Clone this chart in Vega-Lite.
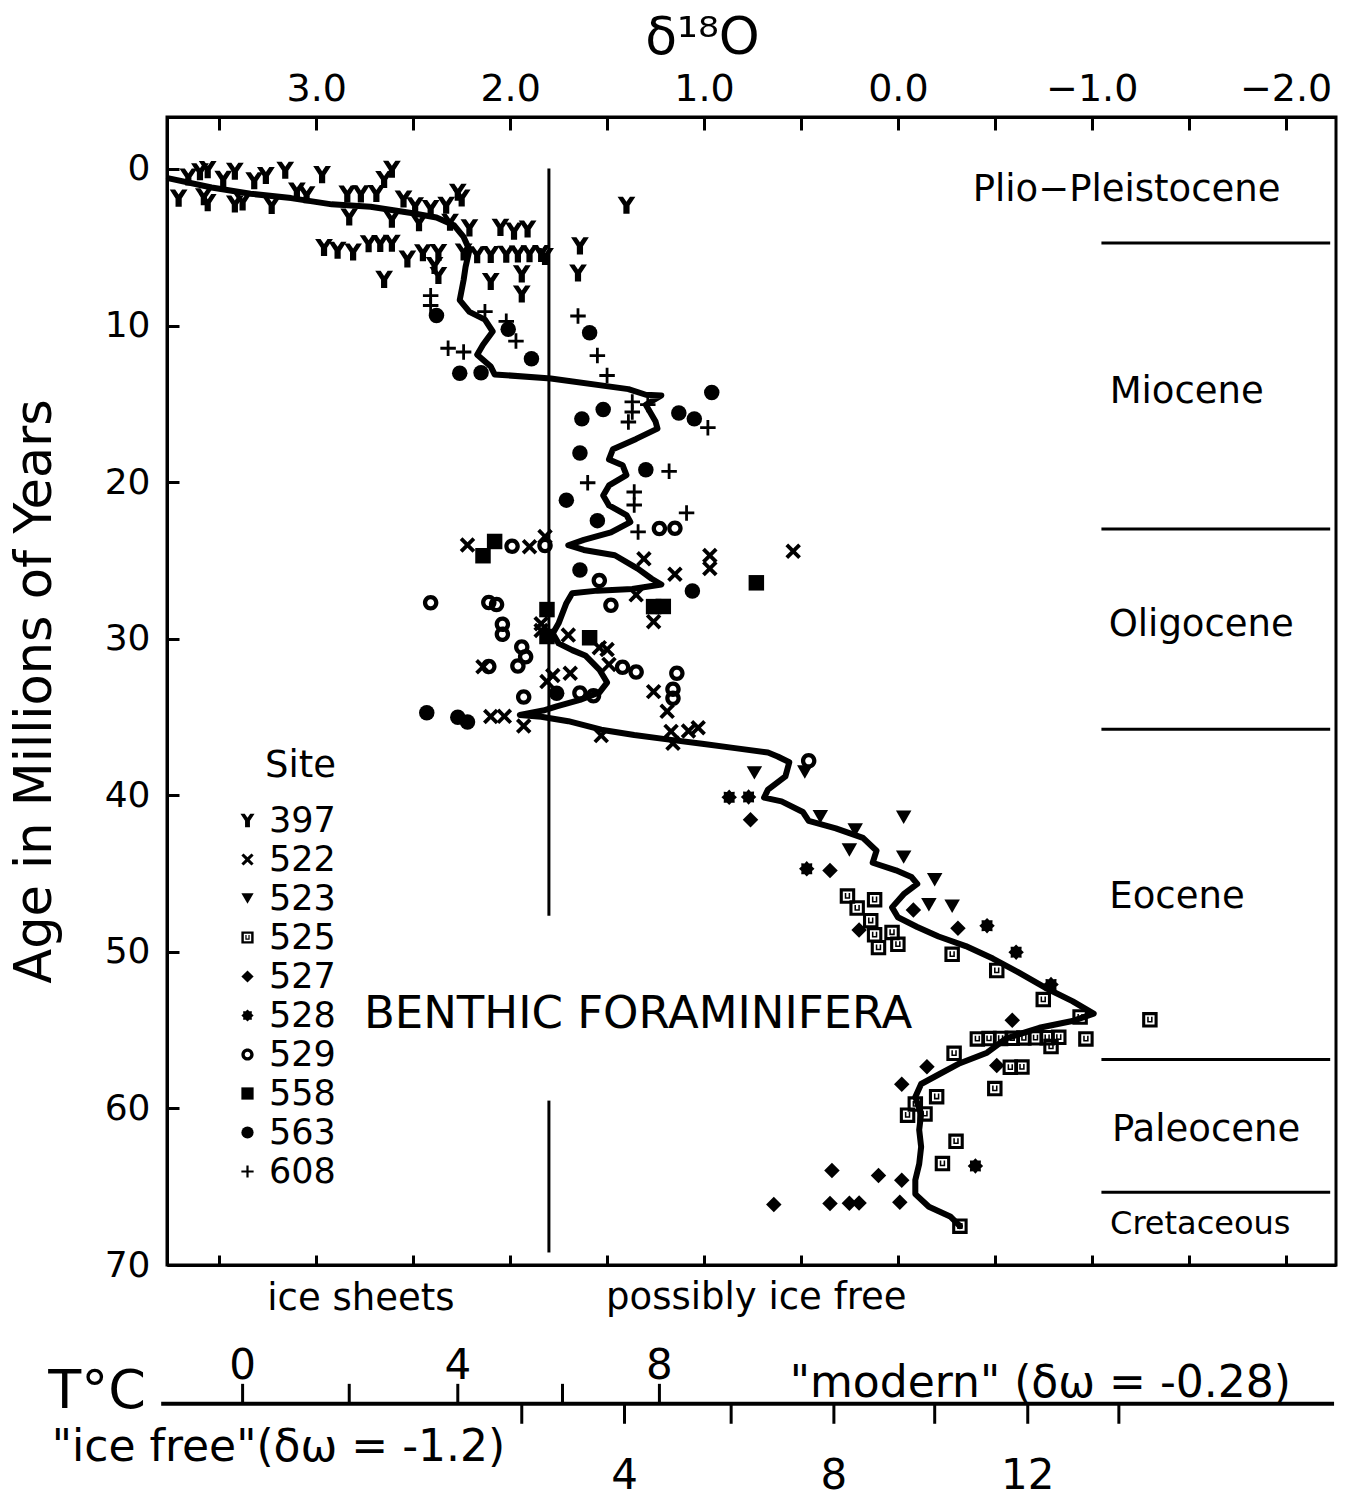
{
  "$schema": "https://vega.github.io/schema/vega-lite/v6.json",
  "width": 1169,
  "height": 1148,
  "autosize": {"type": "none"},
  "padding": {"left": 167, "top": 117, "right": 23, "bottom": 237},
  "background": "white",
  "config": {
    "font": "DejaVu Sans",
    "view": {"stroke": "black", "strokeWidth": 3},
    "axis": {"labelFont": "DejaVu Sans", "titleFont": "DejaVu Sans", "labelColor": "black", "titleColor": "black", "domainColor": "black", "domainWidth": 3, "tickColor": "black", "tickWidth": 3, "titleFontWeight": "normal", "grid": false, "labelFontSize": 36},
    "text": {"font": "DejaVu Sans", "color": "black"},
    "legend": {"labelFont": "DejaVu Sans", "titleFont": "DejaVu Sans", "labelColor": "black", "titleColor": "black"}
  },
  "datasets": {
    "curve": [
      {"d18O":3.76,"age":0.6},{"d18O":3.54,"age":1.18},{"d18O":3.34,"age":1.58},{"d18O":3.13,"age":1.86},{"d18O":2.92,"age":2.26},{"d18O":2.72,"age":2.41},{"d18O":2.51,"age":2.81},{"d18O":2.38,"age":3.10},{"d18O":2.29,"age":3.59},{"d18O":2.24,"age":4.34},{"d18O":2.21,"age":5.17},{"d18O":2.23,"age":6.26},{"d18O":2.24,"age":7.09},{"d18O":2.26,"age":8.37},{"d18O":2.21,"age":9.13},{"d18O":2.13,"age":9.62},{"d18O":2.09,"age":10.38},{"d18O":2.14,"age":11.22},{"d18O":2.17,"age":11.86},{"d18O":2.10,"age":12.62},{"d18O":2.08,"age":13.12},{"d18O":1.79,"age":13.38},{"d18O":1.39,"age":14.06},{"d18O":1.30,"age":14.42},{"d18O":1.22,"age":14.46},{"d18O":1.30,"age":15.06},{"d18O":1.25,"age":16.13},{"d18O":1.24,"age":16.58},{"d18O":1.35,"age":17.24},{"d18O":1.47,"age":17.90},{"d18O":1.49,"age":18.55},{"d18O":1.42,"age":18.92},{"d18O":1.40,"age":19.55},{"d18O":1.49,"age":20.21},{"d18O":1.52,"age":20.86},{"d18O":1.49,"age":21.49},{"d18O":1.40,"age":22.10},{"d18O":1.38,"age":22.55},{"d18O":1.48,"age":23.21},{"d18O":1.62,"age":23.69},{"d18O":1.70,"age":24.03},{"d18O":1.62,"age":24.33},{"d18O":1.46,"age":24.67},{"d18O":1.34,"age":25.54},{"d18O":1.27,"age":26.17},{"d18O":1.22,"age":26.54},{"d18O":1.37,"age":26.83},{"d18O":1.55,"age":26.93},{"d18O":1.68,"age":27.09},{"d18O":1.71,"age":27.73},{"d18O":1.75,"age":29.02},{"d18O":1.78,"age":29.66},{"d18O":1.75,"age":30.30},{"d18O":1.68,"age":30.73},{"d18O":1.61,"age":31.09},{"d18O":1.54,"age":31.97},{"d18O":1.50,"age":32.80},{"d18O":1.54,"age":33.44},{"d18O":1.64,"age":33.91},{"d18O":1.76,"age":34.32},{"d18O":1.83,"age":34.59},{"d18O":1.95,"age":34.87},{"d18O":1.84,"age":34.98},{"d18O":1.70,"age":35.27},{"d18O":1.53,"age":35.81},{"d18O":1.36,"age":36.15},{"d18O":1.19,"age":36.43},{"d18O":1.01,"age":36.71},{"d18O":0.84,"age":36.99},{"d18O":0.67,"age":37.27},{"d18O":0.62,"age":37.52},{"d18O":0.56,"age":37.89},{"d18O":0.58,"age":38.79},{"d18O":0.67,"age":39.64},{"d18O":0.69,"age":40.15},{"d18O":0.60,"age":40.39},{"d18O":0.49,"age":41.07},{"d18O":0.46,"age":41.63},{"d18O":0.32,"age":42.11},{"d18O":0.18,"age":42.72},{"d18O":0.11,"age":43.54},{"d18O":0.13,"age":44.31},{"d18O":0.01,"age":44.79},{"d18O":-0.07,"age":45.22},{"d18O":-0.10,"age":45.66},{"d18O":-0.03,"age":46.32},{"d18O":0.03,"age":47.16},{"d18O":0.00,"age":47.79},{"d18O":-0.10,"age":48.41},{"d18O":-0.21,"age":49.02},{"d18O":-0.35,"age":49.63},{"d18O":-0.49,"age":50.43},{"d18O":-0.62,"age":51.30},{"d18O":-0.76,"age":52.29},{"d18O":-0.90,"age":53.15},{"d18O":-1.01,"age":53.95},{"d18O":-0.90,"age":54.42},{"d18O":-0.73,"age":54.85},{"d18O":-0.56,"age":55.52},{"d18O":-0.46,"age":56.44},{"d18O":-0.32,"age":57.11},{"d18O":-0.22,"age":57.77},{"d18O":-0.12,"age":58.44},{"d18O":-0.09,"age":59.27},{"d18O":-0.12,"age":60.35},{"d18O":-0.11,"age":61.37},{"d18O":-0.12,"age":62.46},{"d18O":-0.11,"age":63.55},{"d18O":-0.09,"age":64.57},{"d18O":-0.09,"age":65.47},{"d18O":-0.16,"age":66.28},{"d18O":-0.27,"age":66.90},{"d18O":-0.32,"age":67.52}
    ],
    "points": [
      {"site":"397","d18O":3.60,"age":0.18},{"site":"397","d18O":3.42,"age":0.14},{"site":"397","d18O":3.16,"age":0.08},{"site":"397","d18O":2.61,"age":0.02},{"site":"397","d18O":2.97,"age":0.36},{"site":"397","d18O":3.26,"age":0.42},{"site":"397","d18O":3.32,"age":0.75},{"site":"397","d18O":3.48,"age":0.66},{"site":"397","d18O":3.66,"age":0.51},{"site":"397","d18O":3.56,"age":0.04},{"site":"397","d18O":3.71,"age":1.86},{"site":"397","d18O":3.58,"age":1.77},{"site":"397","d18O":3.56,"age":2.15},{"site":"397","d18O":3.42,"age":2.24},{"site":"397","d18O":3.38,"age":2.11},{"site":"397","d18O":3.23,"age":2.33},{"site":"397","d18O":3.10,"age":1.41},{"site":"397","d18O":3.05,"age":1.65},{"site":"397","d18O":2.84,"age":1.60},{"site":"397","d18O":2.77,"age":1.59},{"site":"397","d18O":2.69,"age":1.57},{"site":"397","d18O":2.65,"age":0.67},{"site":"397","d18O":2.27,"age":1.48},{"site":"397","d18O":2.25,"age":1.85},{"site":"397","d18O":2.33,"age":2.32},{"site":"397","d18O":2.41,"age":2.53},{"site":"397","d18O":2.49,"age":2.35},{"site":"397","d18O":2.55,"age":1.92},{"site":"397","d18O":2.83,"age":3.07},{"site":"397","d18O":2.61,"age":3.21},{"site":"397","d18O":2.47,"age":3.44},{"site":"397","d18O":2.31,"age":3.40},{"site":"397","d18O":2.21,"age":3.76},{"site":"397","d18O":2.05,"age":3.73},{"site":"397","d18O":1.98,"age":3.97},{"site":"397","d18O":1.91,"age":3.83},{"site":"397","d18O":1.40,"age":2.31},{"site":"397","d18O":1.64,"age":4.91},{"site":"397","d18O":1.65,"age":6.64},{"site":"397","d18O":1.94,"age":6.70},{"site":"397","d18O":1.94,"age":7.98},{"site":"397","d18O":2.10,"age":7.18},{"site":"397","d18O":2.37,"age":6.80},{"site":"397","d18O":2.65,"age":7.05},{"site":"397","d18O":2.96,"age":5.01},{"site":"397","d18O":2.89,"age":5.19},{"site":"397","d18O":2.81,"age":5.30},{"site":"397","d18O":2.73,"age":4.77},{"site":"397","d18O":2.67,"age":4.76},{"site":"397","d18O":2.61,"age":4.74},{"site":"397","d18O":2.53,"age":5.75},{"site":"397","d18O":2.45,"age":5.35},{"site":"397","d18O":2.37,"age":5.33},{"site":"397","d18O":2.39,"age":6.16},{"site":"397","d18O":2.24,"age":5.30},{"site":"397","d18O":2.17,"age":5.48},{"site":"397","d18O":2.10,"age":5.46},{"site":"397","d18O":2.02,"age":5.44},{"site":"397","d18O":1.96,"age":5.43},{"site":"397","d18O":1.90,"age":5.41},{"site":"397","d18O":1.84,"age":5.40},{"site":"397","d18O":1.82,"age":5.59},
      {"site":"522","d18O":2.22,"age":24.01},{"site":"522","d18O":1.90,"age":24.13},{"site":"522","d18O":1.82,"age":23.48},{"site":"522","d18O":1.31,"age":24.90},{"site":"522","d18O":0.97,"age":24.69},{"site":"522","d18O":0.97,"age":25.52},{"site":"522","d18O":1.15,"age":25.88},{"site":"522","d18O":1.35,"age":27.20},{"site":"522","d18O":1.26,"age":28.91},{"site":"522","d18O":1.84,"age":29.04},{"site":"522","d18O":1.84,"age":29.48},{"site":"522","d18O":1.70,"age":29.77},{"site":"522","d18O":1.54,"age":30.57},{"site":"522","d18O":1.50,"age":30.69},{"site":"522","d18O":2.14,"age":31.79},{"site":"522","d18O":1.78,"age":32.35},{"site":"522","d18O":1.69,"age":32.21},{"site":"522","d18O":1.49,"age":31.64},{"site":"522","d18O":1.81,"age":32.74},{"site":"522","d18O":1.26,"age":33.38},{"site":"522","d18O":1.19,"age":34.64},{"site":"522","d18O":2.10,"age":34.97},{"site":"522","d18O":2.03,"age":34.96},{"site":"522","d18O":1.93,"age":35.58},{"site":"522","d18O":1.53,"age":36.19},{"site":"522","d18O":1.17,"age":35.92},{"site":"522","d18O":1.08,"age":35.89},{"site":"522","d18O":1.03,"age":35.69},{"site":"522","d18O":1.16,"age":36.68},{"site":"522","d18O":0.54,"age":24.41},
      {"site":"523","d18O":0.74,"age":38.57},{"site":"523","d18O":0.48,"age":38.51},{"site":"523","d18O":0.40,"age":41.37},{"site":"523","d18O":-0.03,"age":41.40},{"site":"523","d18O":0.22,"age":42.22},{"site":"523","d18O":0.25,"age":43.50},{"site":"523","d18O":-0.03,"age":43.95},{"site":"523","d18O":-0.19,"age":45.39},{"site":"523","d18O":-0.28,"age":47.09},{"site":"523","d18O":-0.16,"age":46.99},
      {"site":"525","d18O":0.26,"age":46.44},{"site":"525","d18O":0.21,"age":47.20},{"site":"525","d18O":0.12,"age":46.67},{"site":"525","d18O":0.14,"age":48.01},{"site":"525","d18O":0.12,"age":48.91},{"site":"525","d18O":0.10,"age":49.73},{"site":"525","d18O":0.00,"age":49.52},{"site":"525","d18O":0.03,"age":48.76},{"site":"525","d18O":-0.28,"age":50.16},{"site":"525","d18O":-0.51,"age":51.19},{"site":"525","d18O":-0.75,"age":53.05},{"site":"525","d18O":-0.94,"age":54.16},{"site":"525","d18O":-1.30,"age":54.34},{"site":"525","d18O":-0.41,"age":55.56},{"site":"525","d18O":-0.47,"age":55.54},{"site":"525","d18O":-0.53,"age":55.53},{"site":"525","d18O":-0.59,"age":55.52},{"site":"525","d18O":-0.65,"age":55.50},{"site":"525","d18O":-0.71,"age":55.49},{"site":"525","d18O":-0.77,"age":55.48},{"site":"525","d18O":-0.83,"age":55.46},{"site":"525","d18O":-0.97,"age":55.56},{"site":"525","d18O":-0.79,"age":56.05},{"site":"525","d18O":-0.58,"age":57.37},{"site":"525","d18O":-0.64,"age":57.36},{"site":"525","d18O":-0.50,"age":58.73},{"site":"525","d18O":-0.29,"age":56.48},{"site":"525","d18O":-0.20,"age":59.25},{"site":"525","d18O":-0.09,"age":59.72},{"site":"525","d18O":-0.05,"age":60.43},{"site":"525","d18O":-0.14,"age":60.35},{"site":"525","d18O":-0.30,"age":62.10},{"site":"525","d18O":-0.23,"age":63.52},{"site":"525","d18O":-0.32,"age":67.52},
      {"site":"527","d18O":0.76,"age":41.57},{"site":"527","d18O":0.35,"age":44.81},{"site":"527","d18O":0.20,"age":48.60},{"site":"527","d18O":-0.31,"age":48.49},{"site":"527","d18O":-0.08,"age":47.33},{"site":"527","d18O":-0.59,"age":54.37},{"site":"527","d18O":-0.15,"age":57.34},{"site":"527","d18O":0.34,"age":63.97},{"site":"527","d18O":0.10,"age":64.29},{"site":"527","d18O":-0.02,"age":64.59},{"site":"527","d18O":0.64,"age":66.14},{"site":"527","d18O":0.35,"age":66.07},{"site":"527","d18O":0.25,"age":66.05},{"site":"527","d18O":0.20,"age":66.04},{"site":"527","d18O":-0.01,"age":66.00},{"site":"527","d18O":-0.51,"age":57.26},{"site":"527","d18O":-0.02,"age":58.46},
      {"site":"528","d18O":0.87,"age":40.13},{"site":"528","d18O":0.77,"age":40.11},{"site":"528","d18O":0.47,"age":44.70},{"site":"528","d18O":-0.46,"age":48.33},{"site":"528","d18O":-0.61,"age":50.02},{"site":"528","d18O":-0.79,"age":52.09},{"site":"528","d18O":-0.40,"age":63.67},
      {"site":"529","d18O":1.23,"age":22.96},{"site":"529","d18O":1.15,"age":22.94},{"site":"529","d18O":1.99,"age":24.09},{"site":"529","d18O":1.82,"age":24.05},{"site":"529","d18O":1.54,"age":26.29},{"site":"529","d18O":2.11,"age":27.69},{"site":"529","d18O":2.07,"age":27.81},{"site":"529","d18O":2.04,"age":29.08},{"site":"529","d18O":2.04,"age":29.72},{"site":"529","d18O":1.94,"age":30.53},{"site":"529","d18O":1.92,"age":31.16},{"site":"529","d18O":1.96,"age":31.75},{"site":"529","d18O":2.11,"age":31.78},{"site":"529","d18O":1.42,"age":31.82},{"site":"529","d18O":1.35,"age":32.12},{"site":"529","d18O":1.14,"age":32.20},{"site":"529","d18O":1.16,"age":33.23},{"site":"529","d18O":1.16,"age":33.81},{"site":"529","d18O":1.64,"age":33.47},{"site":"529","d18O":1.57,"age":33.64},{"site":"529","d18O":1.93,"age":33.72},{"site":"529","d18O":2.41,"age":27.70},{"site":"529","d18O":0.46,"age":37.80},{"site":"529","d18O":1.48,"age":27.87},
      {"site":"558","d18O":2.14,"age":24.70},{"site":"558","d18O":0.73,"age":26.43},{"site":"558","d18O":1.81,"age":28.14},{"site":"558","d18O":1.26,"age":27.95},{"site":"558","d18O":1.21,"age":27.94},{"site":"558","d18O":1.59,"age":29.94},{"site":"558","d18O":1.81,"age":29.86},{"site":"558","d18O":2.08,"age":23.79},
      {"site":"563","d18O":2.38,"age":9.36},{"site":"563","d18O":1.59,"age":10.46},{"site":"563","d18O":1.89,"age":12.12},{"site":"563","d18O":2.26,"age":13.04},{"site":"563","d18O":2.15,"age":13.01},{"site":"563","d18O":0.96,"age":14.28},{"site":"563","d18O":1.52,"age":15.36},{"site":"563","d18O":1.63,"age":15.96},{"site":"563","d18O":1.13,"age":15.59},{"site":"563","d18O":1.05,"age":15.96},{"site":"563","d18O":1.64,"age":18.14},{"site":"563","d18O":1.30,"age":19.21},{"site":"563","d18O":1.71,"age":21.15},{"site":"563","d18O":1.55,"age":22.46},{"site":"563","d18O":1.64,"age":25.61},{"site":"563","d18O":1.06,"age":26.95},{"site":"563","d18O":2.43,"age":34.73},{"site":"563","d18O":2.27,"age":35.01},{"site":"563","d18O":2.22,"age":35.32},{"site":"563","d18O":1.76,"age":33.49},{"site":"563","d18O":2.01,"age":10.23},
      {"site":"608","d18O":2.41,"age":8.09},{"site":"608","d18O":2.41,"age":8.72},{"site":"608","d18O":2.13,"age":9.11},{"site":"608","d18O":2.02,"age":9.73},{"site":"608","d18O":1.97,"age":10.99},{"site":"608","d18O":2.32,"age":11.45},{"site":"608","d18O":2.24,"age":11.69},{"site":"608","d18O":1.65,"age":9.39},{"site":"608","d18O":1.55,"age":11.92},{"site":"608","d18O":1.50,"age":13.19},{"site":"608","d18O":1.37,"age":14.88},{"site":"608","d18O":1.37,"age":15.52},{"site":"608","d18O":1.39,"age":16.16},{"site":"608","d18O":0.98,"age":16.52},{"site":"608","d18O":1.29,"age":15.05},{"site":"608","d18O":1.18,"age":19.31},{"site":"608","d18O":1.36,"age":20.63},{"site":"608","d18O":1.60,"age":20.04},{"site":"608","d18O":1.36,"age":21.46},{"site":"608","d18O":1.34,"age":23.18},{"site":"608","d18O":1.09,"age":21.97}
    ],
    "boundaries": [{"age":4.73},{"age":22.99},{"age":35.79},{"age":56.87},{"age":65.36}],
    "iceLine": [{"d18O":1.8,"from":-0.03,"to":47.7},{"d18O":1.8,"from":59.5,"to":69.2}],
    "epochs": [
      {"label":"Plio−Pleistocene","d18O":-1.18,"age":1.34},
      {"label":"Miocene","d18O":-1.49,"age":14.24},
      {"label":"Oligocene","d18O":-1.565,"age":29.12},
      {"label":"Eocene","d18O":-1.44,"age":46.5},
      {"label":"Paleocene","d18O":-1.59,"age":61.37}
    ],
    "tscale": [
      {"scale":"ice free","T":0,"d18O":3.38},{"scale":"ice free","T":2,"d18O":2.83},{"scale":"ice free","T":4,"d18O":2.27},{"scale":"ice free","T":6,"d18O":1.73},{"scale":"ice free","T":8,"d18O":1.23},
      {"scale":"modern","T":2,"d18O":1.94},{"scale":"modern","T":4,"d18O":1.41},{"scale":"modern","T":6,"d18O":0.86},{"scale":"modern","T":8,"d18O":0.33},{"scale":"modern","T":10,"d18O":-0.19},{"scale":"modern","T":12,"d18O":-0.67},{"scale":"modern","T":14,"d18O":-1.14}
    ]
  },
  "layer": [
    {
      "data": {"name": "boundaries"},
      "mark": {"type": "rule", "strokeWidth": 3, "color": "black"},
      "encoding": {
        "y": {"field": "age", "type": "quantitative", "scale": {"domain": [-3.32, 70], "reverse": true, "nice": false, "zero": false}, "axis": null},
        "x": {"datum": -1.05, "type": "quantitative", "scale": {"domain": [-2.26, 3.77], "reverse": true, "nice": false, "zero": false}, "axis": null},
        "x2": {"datum": -2.23}
      }
    },
    {
      "data": {"name": "iceLine"},
      "mark": {"type": "rule", "strokeWidth": 3, "color": "black"},
      "encoding": {
        "x": {"field": "d18O", "type": "quantitative", "scale": {"domain": [-2.26, 3.77], "reverse": true, "nice": false, "zero": false}, "axis": null},
        "y": {"field": "from", "type": "quantitative", "scale": {"domain": [-3.32, 70], "reverse": true, "nice": false, "zero": false}, "axis": null},
        "y2": {"field": "to"}
      }
    },
    {
      "data": {"name": "curve"},
      "mark": {"type": "line", "color": "black", "strokeWidth": 6, "strokeJoin": "round", "strokeCap": "round"},
      "encoding": {
        "x": {"field": "d18O", "type": "quantitative", "scale": {"domain": [-2.26, 3.77], "reverse": true, "nice": false, "zero": false},
          "axis": {"orient": "top", "values": [3.5, 3, 2.5, 2, 1.5, 1, 0.5, 0, -0.5, -1, -1.5, -2], "labelExpr": "datum.value % 1 == 0 ? format(datum.value, '.1f') : ''", "tickSize": -13, "labelPadding": 22, "labelOverlap": false, "labelFlush": false, "labelFontSize": 38, "title": "δ¹⁸O", "titleFontSize": 52, "titlePadding": 6, "titleX": 535}},
        "y": {"field": "age", "type": "quantitative", "scale": {"domain": [-3.32, 70], "reverse": true, "nice": false, "zero": false},
          "axis": {"orient": "left", "values": [0, 10, 20, 30, 40, 50, 60, 70], "tickSize": -12, "labelPadding": 29, "labelFlush": false, "labelOverlap": false, "labelFontSize": 36, "title": "Age in Millions of Years", "titleFontSize": 51, "titlePadding": 43}},
        "order": {"field": "age"}
      }
    },
    {
      "data": {"name": "points"},
      "mark": {"type": "point", "filled": true, "color": "black", "size": 240, "opacity": 1, "strokeWidth": 0},
      "encoding": {
        "x": {"field": "d18O", "type": "quantitative", "scale": {"domain": [-2.26, 3.77], "reverse": true, "nice": false, "zero": false},
          "axis": {"orient": "bottom", "values": [3.5, 3, 2.5, 2, 1.5, 1, 0.5, 0, -0.5, -1, -1.5, -2], "labels": false, "tickSize": -10, "title": null}},
        "y": {"field": "age", "type": "quantitative", "scale": {"domain": [-3.32, 70], "reverse": true, "nice": false, "zero": false}, "axis": null},
        "shape": {
          "field": "site", "type": "nominal",
          "scale": {
            "domain": ["397", "522", "523", "525", "527", "528", "529", "558", "563", "608"],
            "range": [
              "M-1.15,-1.1 L-0.45,-1.1 L0,-0.45 L0.45,-1.1 L1.15,-1.1 L0.4,0.05 L0.4,1.1 L-0.4,1.1 L-0.4,0.05 Z",
              "M-1,-0.65 L-0.65,-1 L0,-0.35 L0.65,-1 L1,-0.65 L0.35,0 L1,0.65 L0.65,1 L0,0.35 L-0.65,1 L-1,0.65 L-0.35,0 Z",
              "triangle-down",
              "M-1,-1 L1,-1 L1,1 L-1,1 Z M-0.6,-0.6 L-0.6,0.6 L0.6,0.6 L0.6,-0.6 Z M-0.35,-0.4 L-0.35,0.35 L0.35,0.35 L0.35,-0.4 L0.15,-0.4 L0.15,0.15 L-0.15,0.15 L-0.15,-0.4 Z",
              "diamond",
              "M1,0 L0.69,0.29 L0.71,0.71 L0.29,0.69 L0,1 L-0.29,0.69 L-0.71,0.71 L-0.69,0.29 L-1,0 L-0.69,-0.29 L-0.71,-0.71 L-0.29,-0.69 L0,-1 L0.29,-0.69 L0.71,-0.71 L0.69,-0.29 Z",
              "M-1,0 A1,1 0 1,1 1,0 A1,1 0 1,1 -1,0 Z M-0.45,0 A0.45,0.45 0 1,0 0.45,0 A0.45,0.45 0 1,0 -0.45,0 Z",
              "square",
              "circle",
              "M-0.18,-1 L0.18,-1 L0.18,-0.18 L1,-0.18 L1,0.18 L0.18,0.18 L0.18,1 L-0.18,1 L-0.18,0.18 L-1,0.18 L-1,-0.18 L-0.18,-0.18 Z"
            ]
          },
          "legend": {"orient": "none", "legendX": 63, "legendY": 631, "title": "Site", "titleFontSize": 37, "titleFontWeight": "normal", "titleAnchor": "end", "titlePadding": 18, "labelFontSize": 35, "symbolSize": 150, "symbolFillColor": "black", "symbolStrokeWidth": 0, "rowPadding": 3, "labelOffset": 4, "padding": 0}
        }
      }
    },
    {
      "data": {"name": "epochs"},
      "mark": {"type": "text", "fontSize": 37, "align": "center", "baseline": "middle"},
      "encoding": {
        "x": {"field": "d18O", "type": "quantitative", "scale": {"domain": [-2.26, 3.77], "reverse": true, "nice": false, "zero": false}, "axis": null},
        "y": {"field": "age", "type": "quantitative", "scale": {"domain": [-3.32, 70], "reverse": true, "nice": false, "zero": false}, "axis": null},
        "text": {"field": "label"}
      }
    },
    {
      "data": {"values": [{"label": "Cretaceous", "d18O": -1.56, "age": 67.4}]},
      "mark": {"type": "text", "fontSize": 32, "align": "center", "baseline": "middle"},
      "encoding": {
        "x": {"field": "d18O", "type": "quantitative", "scale": {"domain": [-2.26, 3.77], "reverse": true, "nice": false, "zero": false}, "axis": null},
        "y": {"field": "age", "type": "quantitative", "scale": {"domain": [-3.32, 70], "reverse": true, "nice": false, "zero": false}, "axis": null},
        "text": {"field": "label"}
      }
    },
    {
      "data": {"values": [{"label": "BENTHIC FORAMINIFERA", "d18O": 1.34, "age": 53.96}]},
      "mark": {"type": "text", "fontSize": 45, "align": "center", "baseline": "middle"},
      "encoding": {
        "x": {"field": "d18O", "type": "quantitative", "scale": {"domain": [-2.26, 3.77], "reverse": true, "nice": false, "zero": false}, "axis": null},
        "y": {"field": "age", "type": "quantitative", "scale": {"domain": [-3.32, 70], "reverse": true, "nice": false, "zero": false}, "axis": null},
        "text": {"field": "label"}
      }
    },
    {
      "data": {"values": [{"label": "ice sheets", "d18O": 2.77, "age": 72.16}, {"label": "possibly ice free", "d18O": 0.73, "age": 72.1}]},
      "mark": {"type": "text", "fontSize": 37, "align": "center", "baseline": "middle", "clip": false},
      "encoding": {
        "x": {"field": "d18O", "type": "quantitative", "scale": {"domain": [-2.26, 3.77], "reverse": true, "nice": false, "zero": false}, "axis": null},
        "y": {"field": "age", "type": "quantitative", "scale": {"domain": [-3.32, 70], "reverse": true, "nice": false, "zero": false}, "axis": null},
        "text": {"field": "label"}
      }
    },
    {
      "data": {"values": [{"label": "T°C", "d18O": 4.13, "age": 78.1}]},
      "mark": {"type": "text", "fontSize": 54, "align": "center", "baseline": "middle", "clip": false},
      "encoding": {
        "x": {"field": "d18O", "type": "quantitative", "scale": {"domain": [-2.26, 3.77], "reverse": true, "nice": false, "zero": false}, "axis": null},
        "y": {"field": "age", "type": "quantitative", "scale": {"domain": [-3.32, 70], "reverse": true, "nice": false, "zero": false}, "axis": null},
        "text": {"field": "label"}
      }
    },
    {
      "data": {"values": [{"label": "\"ice free\"(δω = -1.2)", "d18O": 3.195, "age": 81.7}, {"label": "\"modern\" (δω = -0.28)", "d18O": -0.735, "age": 77.6}]},
      "mark": {"type": "text", "fontSize": 44, "align": "center", "baseline": "middle", "clip": false},
      "encoding": {
        "x": {"field": "d18O", "type": "quantitative", "scale": {"domain": [-2.26, 3.77], "reverse": true, "nice": false, "zero": false}, "axis": null},
        "y": {"field": "age", "type": "quantitative", "scale": {"domain": [-3.32, 70], "reverse": true, "nice": false, "zero": false}, "axis": null},
        "text": {"field": "label"}
      }
    },
    {
      "data": {"values": [{"from": 3.80, "to": -2.25}]},
      "mark": {"type": "rule", "strokeWidth": 4, "color": "black", "clip": false},
      "encoding": {
        "x": {"field": "from", "type": "quantitative", "scale": {"domain": [-2.26, 3.77], "reverse": true, "nice": false, "zero": false}, "axis": null},
        "x2": {"field": "to"},
        "y": {"datum": 78.86, "type": "quantitative", "scale": {"domain": [-3.32, 70], "reverse": true, "nice": false, "zero": false}, "axis": null}
      }
    },
    {
      "data": {"name": "tscale"},
      "transform": [{"filter": "datum.scale == 'ice free'"}],
      "mark": {"type": "rule", "strokeWidth": 3, "color": "black", "clip": false},
      "encoding": {
        "x": {"field": "d18O", "type": "quantitative", "scale": {"domain": [-2.26, 3.77], "reverse": true, "nice": false, "zero": false}, "axis": null},
        "y": {"datum": 77.59, "type": "quantitative", "scale": {"domain": [-3.32, 70], "reverse": true, "nice": false, "zero": false}, "axis": null},
        "y2": {"datum": 78.86}
      }
    },
    {
      "data": {"name": "tscale"},
      "transform": [{"filter": "datum.scale == 'modern'"}],
      "mark": {"type": "rule", "strokeWidth": 3, "color": "black", "clip": false},
      "encoding": {
        "x": {"field": "d18O", "type": "quantitative", "scale": {"domain": [-2.26, 3.77], "reverse": true, "nice": false, "zero": false}, "axis": null},
        "y": {"datum": 78.86, "type": "quantitative", "scale": {"domain": [-3.32, 70], "reverse": true, "nice": false, "zero": false}, "axis": null},
        "y2": {"datum": 80.14}
      }
    },
    {
      "data": {"name": "tscale"},
      "transform": [{"filter": "datum.scale == 'ice free' && datum.T % 4 == 0"}],
      "mark": {"type": "text", "fontSize": 42, "align": "center", "baseline": "middle", "clip": false},
      "encoding": {
        "x": {"field": "d18O", "type": "quantitative", "scale": {"domain": [-2.26, 3.77], "reverse": true, "nice": false, "zero": false}, "axis": null},
        "y": {"datum": 76.44, "type": "quantitative", "scale": {"domain": [-3.32, 70], "reverse": true, "nice": false, "zero": false}, "axis": null},
        "text": {"field": "T", "type": "quantitative"}
      }
    },
    {
      "data": {"name": "tscale"},
      "transform": [{"filter": "datum.scale == 'modern' && datum.T % 4 == 0"}],
      "mark": {"type": "text", "fontSize": 42, "align": "center", "baseline": "middle", "clip": false},
      "encoding": {
        "x": {"field": "d18O", "type": "quantitative", "scale": {"domain": [-2.26, 3.77], "reverse": true, "nice": false, "zero": false}, "axis": null},
        "y": {"datum": 83.46, "type": "quantitative", "scale": {"domain": [-3.32, 70], "reverse": true, "nice": false, "zero": false}, "axis": null},
        "text": {"field": "T", "type": "quantitative"}
      }
    }
  ],
  "resolve": {"axis": {"x": "independent", "y": "independent"}}
}
